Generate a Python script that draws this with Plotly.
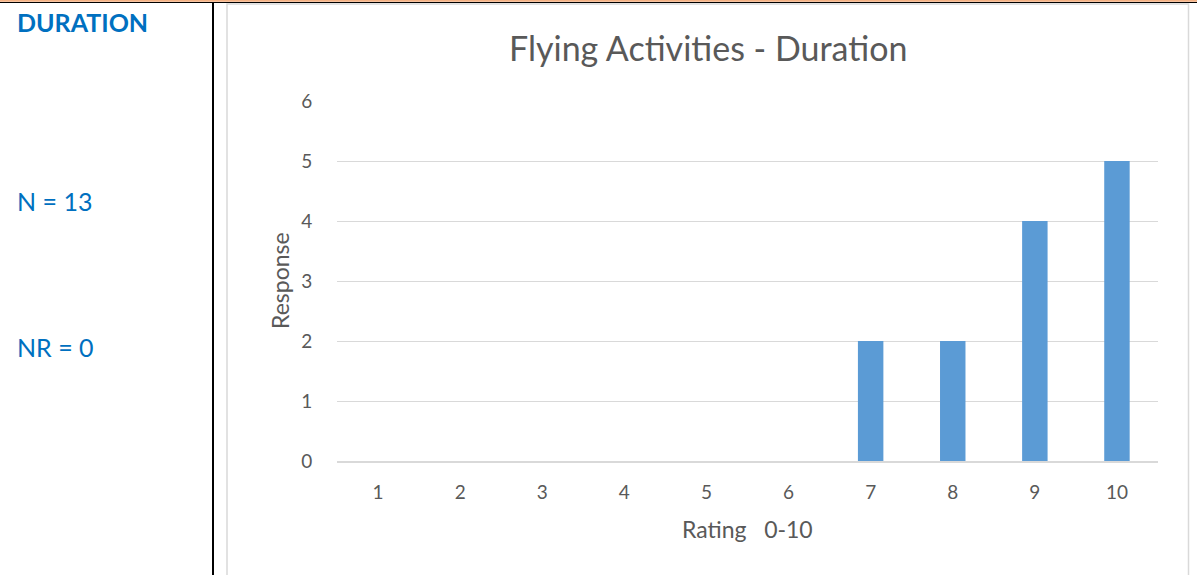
import plotly.graph_objects as go

categories = ["1", "2", "3", "4", "5", "6", "7", "8", "9", "10"]
responses = [0, 0, 0, 0, 0, 0, 2, 2, 4, 5]
y_ticks = [0, 1, 2, 3, 4, 5, 6]

W, H = 1197, 575
L, R, T, B = 337, 1158, 101, 461  # plot area in pixels

def px(x):
    return (x - L) / (R - L)

def py(y):
    return (B - y) / (B - T)

FONT = "Lato, Calibri, 'Open Sans', sans-serif"
GRAY = "#595959"

fig = go.Figure(go.Bar(x=categories, y=responses, marker=dict(color="#5B9BD5", line=dict(width=0)), width=0.31))

fig.update_layout(
    width=W, height=H,
    margin=dict(l=L, r=W - R, t=T, b=H - B, pad=0),
    paper_bgcolor="white", plot_bgcolor="white",
    showlegend=False,
    font=dict(family=FONT, color=GRAY, size=19),
    xaxis=dict(type="category", showgrid=False, showline=True, linecolor="#D9D9D9", linewidth=1.5,
               ticks="outside", ticklen=13, tickcolor="rgba(0,0,0,0)", tickfont=dict(size=19, color=GRAY)),
    yaxis=dict(range=[0, 6], tickvals=y_ticks, showgrid=True, gridcolor="#D9D9D9", gridwidth=1,
               zeroline=False, showline=False,
               ticks="outside", ticklen=20, tickcolor="rgba(0,0,0,0)", tickfont=dict(size=19, color=GRAY)),
)

shapes = [
    # top peach and black lines
    dict(type="line", xref="paper", yref="paper", x0=px(0), x1=px(W), y0=py(0.8), y1=py(0.8), line=dict(color="#F4B183", width=2)),
    dict(type="line", xref="paper", yref="paper", x0=px(0), x1=px(W), y0=py(2.5), y1=py(2.5), line=dict(color="black", width=1)),
    # left table divider
    dict(type="line", xref="paper", yref="paper", x0=px(213), x1=px(213), y0=py(2), y1=py(H + 5), line=dict(color="black", width=2)),
    # chart box border
    dict(type="rect", xref="paper", yref="paper", x0=px(227), x1=px(1188.5), y0=py(4), y1=py(H + 5), line=dict(color="#D9D9D9", width=1.5)),
]

annotations = [
    dict(text="Flying Activities - Duration", x=px(708), y=py(47), xref="paper", yref="paper", showarrow=False,
         font=dict(size=34, color=GRAY, family=FONT), xanchor="center", yanchor="middle"),
    dict(text="Response", x=px(280), y=py(281), xref="paper", yref="paper", showarrow=False, textangle=-90,
         font=dict(size=23, color=GRAY, family=FONT), xanchor="center", yanchor="middle"),
    dict(text="Rating&nbsp;&nbsp;&nbsp;0-10", x=px(747), y=py(529), xref="paper", yref="paper", showarrow=False,
         font=dict(size=23, color=GRAY, family=FONT), xanchor="center", yanchor="middle"),
    dict(text="<b>DURATION</b>", x=px(15), y=py(22), xref="paper", yref="paper", showarrow=False,
         font=dict(size=25, color="#0070C0", family=FONT), xanchor="left", yanchor="middle"),
    dict(text="N = 13", x=px(15), y=py(201), xref="paper", yref="paper", showarrow=False,
         font=dict(size=25, color="#0070C0", family=FONT), xanchor="left", yanchor="middle"),
    dict(text="NR = 0", x=px(15), y=py(347), xref="paper", yref="paper", showarrow=False,
         font=dict(size=25, color="#0070C0", family=FONT), xanchor="left", yanchor="middle"),
]

fig.update_layout(shapes=shapes, annotations=annotations)
fig.write_html("out.html", config={"displayModeBar": False},
               post_script="document.body.style.margin='0px';document.body.style.overflow='hidden';")
